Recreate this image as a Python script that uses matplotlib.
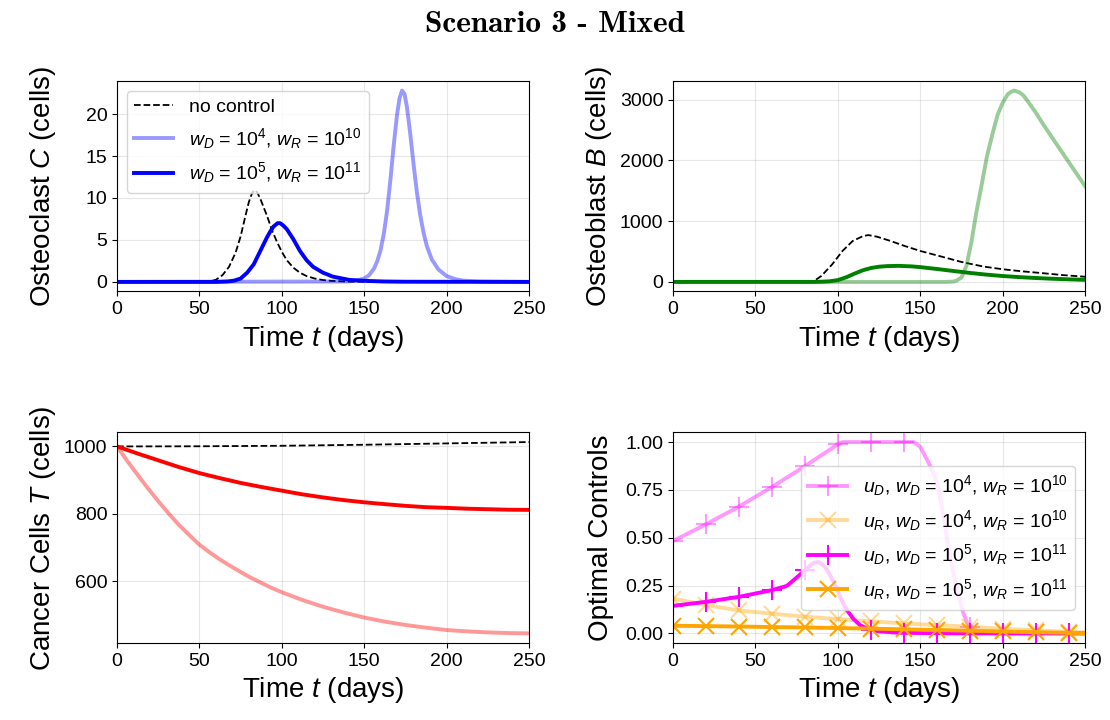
import matplotlib
matplotlib.use("Agg")
import matplotlib.pyplot as plt
import numpy as np

plt.rcParams['font.family'] = ['Liberation Sans', 'DejaVu Sans']
plt.rcParams['mathtext.fontset'] = 'custom'
plt.rcParams['mathtext.rm'] = 'Liberation Sans'
plt.rcParams['mathtext.it'] = 'Liberation Sans:italic'
plt.rcParams['mathtext.bf'] = 'Liberation Sans:bold'

# --- osteoclasts C ---
t_C0 = [0, 50, 56, 60, 64, 68, 72, 75, 78, 80, 82, 83.5, 85, 87, 91, 94, 97, 100,
        103, 107, 111, 115, 120, 125, 130, 140, 150, 250]
C0 = [0, 0, 0.05, 0.25, 0.8, 1.8, 3.5, 5.4, 7.9, 9.5, 10.6, 10.95, 10.7, 9.9, 7.9,
      6.2, 4.8, 3.6, 2.6, 1.7, 1.1, 0.7, 0.4, 0.22, 0.12, 0.04, 0.01, 0]
t_C1 = [0, 140, 145, 150, 153, 156, 158, 160, 162, 164, 166, 168, 170, 171.5, 173,
        174.5, 176, 178, 180, 182, 184, 186, 188, 191, 195, 200, 205, 210, 220, 250]
C1 = [0, 0.05, 0.15, 0.4, 0.8, 1.6, 2.5, 3.8, 5.8, 8.6, 12.3, 16.4, 20.0, 21.9,
      22.8, 22.4, 20.8, 17.6, 14.0, 10.7, 8.0, 5.9, 4.3, 2.7, 1.5, 0.7, 0.35, 0.15,
      0.05, 0]
t_C2 = [0, 60, 67, 71, 75, 79, 83, 87, 91, 93, 95, 97.5, 99, 101, 103, 107, 111,
        115, 119, 125, 131, 141, 151, 162, 175, 250]
C2 = [0, 0, 0.05, 0.15, 0.4, 1.1, 2.1, 3.7, 5.3, 6.0, 6.6, 7.0, 7.0, 6.7, 6.3, 5.1,
      3.7, 2.6, 1.8, 1.1, 0.63, 0.24, 0.12, 0.05, 0.02, 0]

# --- osteoblasts B ---
t_B0 = [0, 80, 85, 90, 96.6, 102.8, 109, 115.4, 118.5, 123.7, 132, 140.5, 150,
        161.4, 175, 188.5, 200, 211.5, 225, 236.6, 250]
B0 = [0, 0, 5, 98, 290, 509, 673, 755, 770, 744, 673, 591, 509, 427, 328, 252,
      208, 175, 142, 112, 85]
t_B1 = [0, 165, 170, 172, 175, 178, 181, 184, 187.5, 190.5, 194, 197, 200, 203,
        205, 207, 210, 212.5, 215, 220, 225, 230, 235, 240, 245, 250]
B1 = [0, 0, 5, 20, 71, 263, 646, 1138, 1631, 2069, 2452, 2753, 2945, 3082, 3125,
      3147, 3120, 3070, 2980, 2790, 2575, 2375, 2175, 1975, 1775, 1576]
t_B2 = [0, 85, 90, 95, 100, 105, 110, 115, 120, 125, 130, 137, 145, 150, 160, 170,
        180, 190, 200, 210, 220, 230, 240, 250]
B2 = [0, 0, 3, 10, 30, 75, 135, 190, 228, 250, 260, 264, 255, 243, 213, 180, 148,
      120, 97, 79, 64, 52, 42, 34]

# --- cancer cells T ---
t_T0 = [0, 50, 100, 150, 200, 250]
T0 = [1000, 1000.5, 1002, 1005, 1009, 1013]
t_T = [0, 6.25, 12.5, 18.75, 25, 31.25, 37.5, 43.75, 50, 56.25, 62.5, 68.75, 75,
       81.25, 87.5, 93.75, 100, 112.5, 125, 137.5, 150, 162.5, 175, 187.5, 200,
       212.5, 225, 237.5, 250]
T1 = [1000, 957, 916, 876, 838, 802, 768, 738, 709, 686, 665, 646, 628, 611, 596,
      581, 568, 545, 525, 508, 493, 481, 471, 463, 456, 452, 449, 447, 446]
T2 = [1000, 989.5, 979, 969, 959, 949, 939, 930, 921, 913.5, 906, 899, 892, 886,
      880, 874.5, 869, 858, 849, 841, 834.5, 829, 824, 820, 818, 815.5, 814, 812.5,
      812]

# --- controls ---
t_uD1 = [0, 20, 40, 60, 80, 100, 103, 120, 140, 146, 150, 154, 158, 161, 164, 166,
         168, 170, 172, 174, 176, 178, 180, 183, 187, 200, 220, 240, 250]
uD1 = [0.483, 0.570, 0.663, 0.765, 0.874, 0.988, 1.0, 1.0, 1.0, 1.0, 0.975, 0.91,
       0.84, 0.76, 0.62, 0.51, 0.41, 0.32, 0.24, 0.17, 0.11, 0.065, 0.035, 0.015,
       0.005, 0.0, 0.0, 0.0, 0.0]
t_uR = [0, 20, 40, 60, 80, 100, 120, 140, 160, 180, 200, 220, 240, 250]
uR1 = [0.182, 0.148, 0.12, 0.103, 0.087, 0.075, 0.063, 0.052, 0.043, 0.035, 0.024,
       0.016, 0.008, 0.005]
uR2 = [0.040, 0.038, 0.036, 0.033, 0.031, 0.028, 0.025, 0.021, 0.018, 0.014,
       0.010, 0.006, 0.003, 0.001]
t_uD2 = [0, 20, 40, 60, 69, 75, 80, 84, 85.5, 87, 88.5, 90, 93, 96, 99.5, 102.5,
         105.5, 109.5, 113.5, 117.5, 120, 124, 134, 140, 160, 180, 200, 220, 240, 250]
uD2 = [0.144, 0.165, 0.191, 0.226, 0.248, 0.292, 0.33, 0.361, 0.369, 0.373, 0.372,
       0.366, 0.339, 0.292, 0.231, 0.17, 0.122, 0.075, 0.043, 0.026, 0.02, 0.012,
       0.005, 0.003, 0.001, 0.0, 0.0, 0.0, 0.0, 0.0]

lab1 = r"$w_D$ = $10^4$, $w_R$ = $10^{10}$"
lab2 = r"$w_D$ = $10^5$, $w_R$ = $10^{11}$"

fig, axs = plt.subplots(2, 2, figsize=(11.1, 7.2), dpi=100)
fig.subplots_adjust(left=0.1054, right=0.9775, bottom=0.107, top=0.8875,
                    wspace=0.35, hspace=0.67)

lw = 2.8
ax = axs[0, 0]
ax.plot(t_C0, C0, 'k--', lw=1.3, label='no control')
ax.plot(t_C1, C1, color='blue', alpha=0.4, lw=lw, label=lab1)
ax.plot(t_C2, C2, color='blue', lw=lw, label=lab2)
ax.set_yticks([0, 5, 10, 15, 20])
ax.set_ylabel(r"Osteoclast $C$ (cells)")
ax.legend(loc='upper left', fontsize=14)

ax = axs[0, 1]
ax.plot(t_B0, B0, 'k--', lw=1.3)
ax.plot(t_B1, B1, color='green', alpha=0.4, lw=lw)
ax.plot(t_B2, B2, color='green', lw=lw)
ax.set_ylabel(r"Osteoblast $B$ (cells)")

ax = axs[1, 0]
ax.plot(t_T0, T0, 'k--', lw=1.3)
ax.plot(t_T, T1, color='red', alpha=0.4, lw=lw)
ax.plot(t_T, T2, color='red', lw=lw)
ax.set_ylabel(r"Cancer Cells $T$ (cells)")

ax = axs[1, 1]
def every20(t):
    return [v % 20 == 0 for v in t]
ax.plot(t_uD1, uD1, color='magenta', alpha=0.4, lw=lw, marker='+', ms=14, mew=1.5,
        markevery=every20(t_uD1), label=r"$u_D$, " + lab1)
ax.plot(t_uR, uR1, color='orange', alpha=0.4, lw=lw, marker='x', ms=12, mew=1.5,
        markevery=every20(t_uR), label=r"$u_R$, " + lab1)
ax.plot(t_uD2, uD2, color='magenta', lw=lw, marker='+', ms=14, mew=1.5,
        markevery=every20(t_uD2), label=r"$u_D$, " + lab2)
ax.plot(t_uR, uR2, color='orange', lw=lw, marker='x', ms=12, mew=1.5,
        markevery=every20(t_uR), label=r"$u_R$, " + lab2)
ax.set_ylabel("Optimal Controls")
ax.legend(loc='center right', fontsize=14)

for ax in axs.flat:
    ax.set_xlim(0, 250)
    ax.set_xticks([0, 50, 100, 150, 200, 250])
    ax.set_xlabel(r"Time $t$ (days)", fontsize=20)
    ax.yaxis.label.set_fontsize(20)
    ax.tick_params(labelsize=14)
    ax.grid(True, alpha=0.3)

fig.align_ylabels(axs[:, 0])
fig.align_ylabels(axs[:, 1])

fig.suptitle("Scenario 3 - Mixed", family='cmb10', fontsize=22.5, y=0.985)

fig.savefig("out.png", dpi=100)
